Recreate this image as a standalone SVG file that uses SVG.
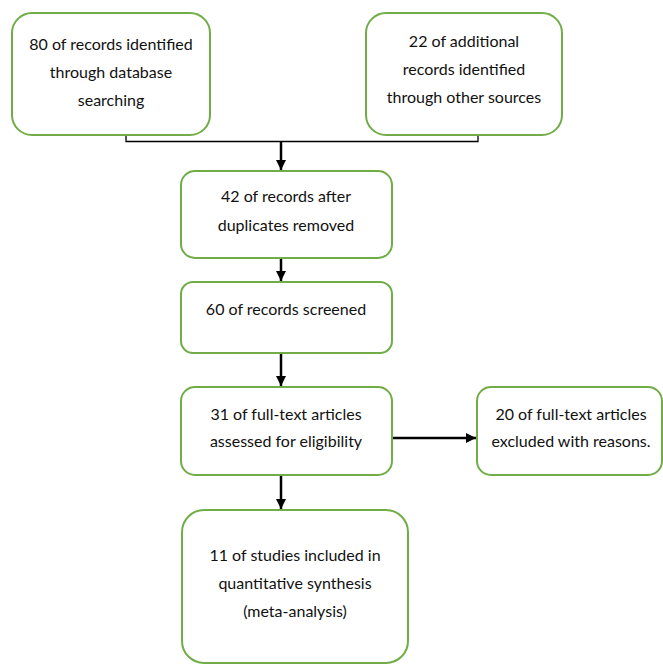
<svg xmlns="http://www.w3.org/2000/svg" width="663" height="664" viewBox="0 0 663 664">
<style>
.box{fill:#fff;stroke:#70AD47;stroke-width:2}
.t{font-family:Lato,"Liberation Sans",sans-serif;font-size:16px;fill:#111;text-anchor:middle}
.c{stroke:#000;fill:none}
</style>
<defs>
<marker id="ah" viewBox="0 0 10 10" refX="10" refY="5" markerWidth="4" markerHeight="4" orient="auto" markerUnits="strokeWidth">
<path d="M0,0 L10,5 L0,10 z" fill="#000"/>
</marker>
</defs>
<rect width="663" height="664" fill="#fff"/>
<g id="connectors">
<path class="c" stroke-width="1.3" d="M126,135 V141.5 H478 V135"/>
<path class="c" stroke-width="2.5" d="M281,141.5 V170" marker-end="url(#ah)"/>
<path class="c" stroke-width="2.5" d="M281,258 V281" marker-end="url(#ah)"/>
<path class="c" stroke-width="2.5" d="M281,353 V386" marker-end="url(#ah)"/>
<path class="c" stroke-width="2.5" d="M392,438 H476" marker-end="url(#ah)"/>
<path class="c" stroke-width="2.5" d="M281,475 V509" marker-end="url(#ah)"/>
</g>
<g id="n1"><rect class="box" x="12" y="13" width="198" height="122" rx="20"/>
<text class="t" x="111" y="50">80 of records identified</text>
<text class="t" x="111" y="78">through database</text>
<text class="t" x="111" y="106">searching</text></g>
<g id="n2"><rect class="box" x="366" y="13" width="196" height="122" rx="20"/>
<text class="t" x="464" y="47">22 of additional</text>
<text class="t" x="464" y="75">records identified</text>
<text class="t" x="464" y="103">through other sources</text></g>
<g id="n3"><rect class="box" x="181" y="171" width="211" height="87" rx="14"/>
<text class="t" x="286" y="202">42 of records after</text>
<text class="t" x="286" y="231">duplicates removed</text></g>
<g id="n4"><rect class="box" x="181" y="282" width="211" height="71" rx="12"/>
<text class="t" x="286" y="315">60 of records screened</text></g>
<g id="n5"><rect class="box" x="181" y="387" width="211" height="88" rx="14"/>
<text class="t" x="286" y="420">31 of full-text articles</text>
<text class="t" x="286" y="447">assessed for eligibility</text></g>
<g id="n6"><rect class="box" x="477" y="387" width="185" height="88" rx="14"/>
<text class="t" x="571" y="420">20 of full-text articles</text>
<text class="t" x="571" y="447">excluded with reasons.</text></g>
<g id="n7"><rect class="box" x="182" y="510" width="226" height="153" rx="22"/>
<text class="t" x="295" y="561">11 of studies included in</text>
<text class="t" x="295" y="589">quantitative synthesis</text>
<text class="t" x="295" y="617">(meta-analysis)</text></g>
</svg>
